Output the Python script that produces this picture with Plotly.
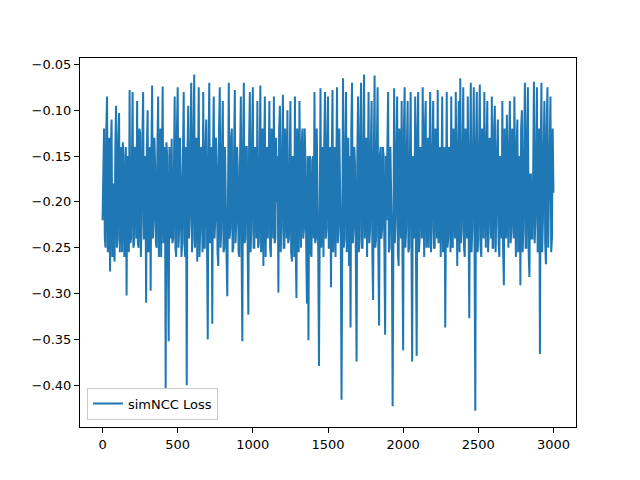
import plotly.graph_objects as go

series_name = "simNCC Loss"
x_step = 5
loss_values = [
    -0.22, -0.14, -0.12, -0.24, -0.25, -0.12, -0.085, -0.255, -0.23, -0.13, -0.276, -0.145, -0.11, -0.26, -0.18, -0.25, -0.265, -0.14, -0.095, -0.25,
    -0.24, -0.13, -0.103, -0.255, -0.21, -0.14, -0.255, -0.135, -0.15, -0.26, -0.23, -0.14, -0.302, -0.15, -0.17, -0.255, -0.078, -0.245, -0.24, -0.13,
    -0.08, -0.25, -0.245, -0.14, -0.16, -0.24, -0.09, -0.245, -0.25, -0.12, -0.125, -0.26, -0.22, -0.13, -0.08, -0.24, -0.24, -0.15, -0.310, -0.14,
    -0.10, -0.255, -0.23, -0.14, -0.297, -0.145, -0.073, -0.24, -0.22, -0.13, -0.16, -0.245, -0.25, -0.14, -0.085, -0.26, -0.21, -0.12, -0.26, -0.15,
    -0.074, -0.245, -0.22, -0.14, -0.403, -0.135, -0.15, -0.255, -0.352, -0.14, -0.19, -0.24, -0.131, -0.245, -0.24, -0.13, -0.085, -0.25, -0.26, -0.12,
    -0.075, -0.25, -0.23, -0.13, -0.17, -0.26, -0.245, -0.15, -0.08, -0.245, -0.26, -0.14, -0.400, -0.145, -0.095, -0.24, -0.22, -0.14, -0.07, -0.255,
    -0.24, -0.12, -0.061, -0.25, -0.21, -0.13, -0.265, -0.15, -0.075, -0.26, -0.23, -0.14, -0.17, -0.255, -0.08, -0.25, -0.25, -0.14, -0.11, -0.24,
    -0.350, -0.15, -0.07, -0.245, -0.24, -0.14, -0.333, -0.145, -0.085, -0.24, -0.22, -0.13, -0.16, -0.255, -0.27, -0.12, -0.075, -0.25, -0.23, -0.14,
    -0.09, -0.255, -0.25, -0.14, -0.18, -0.26, -0.303, -0.12, -0.07, -0.24, -0.23, -0.13, -0.12, -0.255, -0.25, -0.15, -0.078, -0.245, -0.22, -0.14,
    -0.165, -0.255, -0.26, -0.15, -0.085, -0.25, -0.352, -0.14, -0.07, -0.245, -0.24, -0.14, -0.14, -0.24, -0.323, -0.135, -0.08, -0.255, -0.23, -0.13,
    -0.075, -0.25, -0.25, -0.14, -0.18, -0.24, -0.09, -0.25, -0.245, -0.14, -0.073, -0.255, -0.22, -0.12, -0.27, -0.15, -0.085, -0.26, -0.21, -0.14,
    -0.24, -0.14, -0.09, -0.25, -0.26, -0.12, -0.15, -0.24, -0.085, -0.245, -0.24, -0.13, -0.20, -0.15, -0.299, -0.12, -0.095, -0.255, -0.23, -0.14,
    -0.083, -0.25, -0.25, -0.12, -0.17, -0.24, -0.10, -0.245, -0.24, -0.14, -0.09, -0.255, -0.265, -0.15, -0.16, -0.26, -0.085, -0.245, -0.305, -0.12,
    -0.17, -0.255, -0.09, -0.24, -0.25, -0.14, -0.12, -0.24, -0.23, -0.12, -0.16, -0.25, -0.311, -0.15, -0.351, -0.16, -0.15, -0.255, -0.26, -0.155,
    -0.15, -0.24, -0.08, -0.245, -0.24, -0.12, -0.18, -0.255, -0.379, -0.15, -0.076, -0.25, -0.22, -0.14, -0.26, -0.135, -0.08, -0.24, -0.23, -0.13,
    -0.085, -0.25, -0.25, -0.14, -0.293, -0.15, -0.078, -0.255, -0.21, -0.14, -0.26, -0.145, -0.075, -0.245, -0.23, -0.12, -0.17, -0.24, -0.416, -0.15,
    -0.065, -0.25, -0.24, -0.14, -0.08, -0.255, -0.22, -0.13, -0.27, -0.15, -0.337, -0.12, -0.07, -0.245, -0.23, -0.14, -0.16, -0.255, -0.374, -0.15,
    -0.085, -0.255, -0.24, -0.12, -0.07, -0.25, -0.25, -0.14, -0.061, -0.24, -0.20, -0.13, -0.26, -0.15, -0.08, -0.245, -0.23, -0.14, -0.09, -0.255,
    -0.307, -0.15, -0.062, -0.25, -0.24, -0.14, -0.075, -0.255, -0.335, -0.15, -0.14, -0.24, -0.23, -0.14, -0.15, -0.25, -0.345, -0.15, -0.22, -0.14,
    -0.08, -0.255, -0.25, -0.14, -0.18, -0.24, -0.423, -0.135, -0.076, -0.245, -0.22, -0.14, -0.085, -0.255, -0.27, -0.12, -0.16, -0.24, -0.09, -0.25,
    -0.362, -0.12, -0.075, -0.25, -0.23, -0.14, -0.09, -0.255, -0.25, -0.15, -0.08, -0.245, -0.374, -0.15, -0.17, -0.24, -0.085, -0.25, -0.368, -0.12,
    -0.08, -0.255, -0.24, -0.14, -0.18, -0.24, -0.075, -0.245, -0.26, -0.12, -0.09, -0.25, -0.22, -0.13, -0.25, -0.15, -0.08, -0.255, -0.23, -0.14,
    -0.09, -0.25, -0.25, -0.12, -0.17, -0.24, -0.078, -0.245, -0.23, -0.14, -0.26, -0.15, -0.085, -0.255, -0.20, -0.14, -0.337, -0.135, -0.08, -0.25,
    -0.24, -0.14, -0.16, -0.255, -0.085, -0.245, -0.25, -0.12, -0.19, -0.24, -0.08, -0.25, -0.27, -0.15, -0.09, -0.255, -0.065, -0.245, -0.23, -0.14,
    -0.075, -0.25, -0.26, -0.12, -0.17, -0.24, -0.085, -0.245, -0.327, -0.15, -0.07, -0.255, -0.23, -0.14, -0.075, -0.25, -0.428, -0.135, -0.08, -0.255,
    -0.24, -0.14, -0.072, -0.25, -0.26, -0.12, -0.18, -0.24, -0.08, -0.245, -0.25, -0.14, -0.09, -0.255, -0.23, -0.13, -0.16, -0.24, -0.085, -0.25,
    -0.25, -0.12, -0.095, -0.255, -0.22, -0.14, -0.11, -0.245, -0.26, -0.15, -0.17, -0.24, -0.09, -0.25, -0.291, -0.12, -0.20, -0.24, -0.105, -0.25,
    -0.25, -0.14, -0.09, -0.245, -0.23, -0.12, -0.165, -0.24, -0.085, -0.25, -0.26, -0.14, -0.11, -0.255, -0.24, -0.15, -0.291, -0.12, -0.10, -0.255,
    -0.23, -0.14, -0.07, -0.25, -0.25, -0.12, -0.075, -0.255, -0.282, -0.17, -0.17, -0.24, -0.24, -0.165, -0.069, -0.245, -0.22, -0.14, -0.075, -0.255,
    -0.25, -0.12, -0.366, -0.15, -0.07, -0.255, -0.22, -0.14, -0.09, -0.245, -0.268, -0.12, -0.075, -0.25, -0.21, -0.14, -0.085, -0.255, -0.24, -0.12,
    -0.19,
]
iterations = list(range(0, x_step * len(loss_values), x_step))

x_ticks = [0, 500, 1000, 1500, 2000, 2500, 3000]
y_ticks = [-0.05, -0.10, -0.15, -0.20, -0.25, -0.30, -0.35, -0.40]

fig = go.Figure()
fig.add_trace(go.Scatter(
    x=iterations, y=loss_values, mode="lines", name=series_name,
    line=dict(color="#1f77b4", width=2),
    showlegend=True,
))

axis_common = dict(
    showline=True, linecolor="black", linewidth=1, mirror=True,
    ticks="outside", ticklen=5, tickwidth=1, tickcolor="black",
    showgrid=False, zeroline=False,
    tickfont=dict(family="DejaVu Sans", size=13, color="black"),
)

fig.update_layout(
    width=624, height=464,
    margin=dict(l=72, r=56, t=50, b=45),
    paper_bgcolor="white", plot_bgcolor="white",
    font=dict(family="DejaVu Sans", size=13, color="black"),
    xaxis=dict(range=[-150, 3150], tickvals=x_ticks,
               ticktext=[str(v) for v in x_ticks], **axis_common),
    yaxis=dict(range=[-0.4456, -0.043], tickvals=y_ticks,
               ticktext=["\u2212{:.2f}".format(abs(v)) for v in y_ticks], **axis_common),
    legend=dict(x=0.014, y=0.02, xanchor="left", yanchor="bottom",
                bgcolor="rgba(255,255,255,0.8)", bordercolor="#cccccc", borderwidth=1,
                font=dict(family="DejaVu Sans", size=13)),
)

fig.write_html("out.html")
